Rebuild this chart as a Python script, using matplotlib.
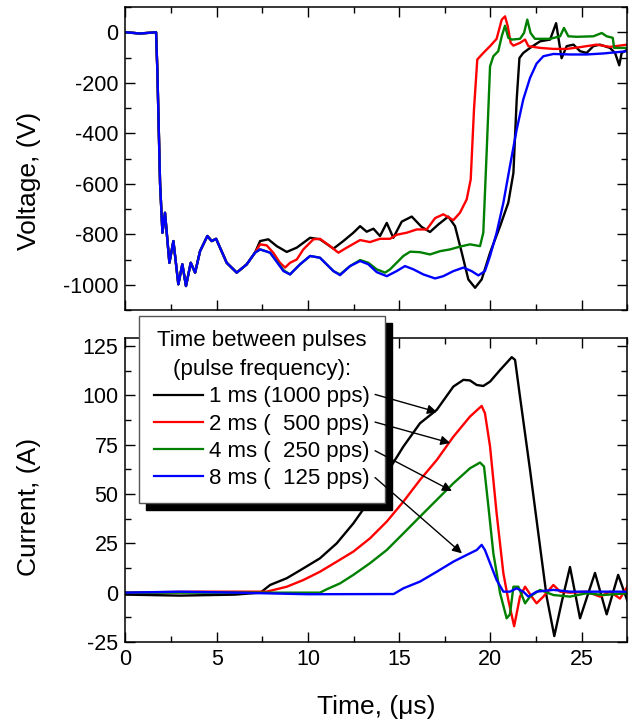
import matplotlib
matplotlib.use("Agg")
import matplotlib.pyplot as plt
from matplotlib.lines import Line2D
from matplotlib.ticker import MultipleLocator
import numpy as np

plt.rcParams['font.family'] = ['Liberation Sans', 'DejaVu Sans']
plt.rcParams['axes.unicode_minus'] = False

# ---------------- data ----------------
# common early voltage part (all curves overlap)
v_common_t = [0.0, 0.8, 1.68, 1.75, 1.9, 2.03, 2.17, 2.41, 2.63, 2.9, 3.12, 3.32, 3.58, 3.82,
              4.09, 4.49, 4.73, 4.97, 5.55, 6.1, 6.65, 7.1]
v_common_v = [0, -5, 0, -150, -600, -794, -715, -913, -827, -998, -919, -1005, -913, -952,
              -867, -807, -827, -818, -913, -952, -919, -873]

v_black_t = [7.38, 7.83, 8.29, 8.84, 9.39, 10.12, 10.66, 11.4, 11.94, 12.49, 12.86, 13.22, 13.59,
             13.95, 14.32, 14.68, 15.14, 15.69, 16.23, 16.69, 17.15, 17.69, 18.06, 18.43, 18.79,
             19.16, 19.52, 19.98, 20.53, 20.98, 21.26, 21.44, 21.59, 21.8, 22.17, 22.72, 23.27,
             23.6, 23.9, 24.18, 24.55, 24.91, 25.27, 25.64, 26.0, 26.55, 26.83, 27.06, 27.19, 27.5]
v_black_v = [-827, -820, -847, -870, -853, -814, -820, -857, -827, -794, -768, -790, -778,
             -807, -755, -814, -750, -730, -771, -791, -761, -730, -768, -873, -979,
             -1012, -979, -873, -768, -675, -557, -266, -102, -82, -62, -36, -29,
             36, -103, -55, -49, -75, -82, -55, -49, -62, -82, -131, -82, -69]

v_red_t = [7.38, 7.74, 8.1, 8.47, 8.75, 9.02, 9.39, 9.75, 10.3, 10.66, 11.21, 11.67, 12.13, 12.86,
           13.4, 13.95, 14.5, 14.86, 15.41, 15.96, 16.51, 16.97, 17.42, 17.97, 18.33, 18.7, 18.92,
           19.1, 19.28, 19.61, 19.98, 20.34, 20.62, 20.8, 20.95, 21.11, 21.26, 21.62, 21.9, 22.08,
           22.72, 23.45, 24.18, 24.91, 25.82, 26.55, 27.5]
v_red_v = [-840, -844, -873, -913, -932, -913, -900, -860, -820, -818, -847, -873, -853, -823,
           -831, -818, -818, -802, -794, -781, -781, -736, -721, -744, -715, -662, -583,
           -306, -108, -82, -55, -26, 50, 63, 24, -42, -53, -42, -29, -55,
           -62, -66, -66, -59, -49, -58, -49]

v_green_t = [7.38, 7.93, 8.66, 9.02, 9.57, 10.12, 10.66, 11.4, 11.76, 12.31, 12.86, 13.31, 13.77,
             14.23, 14.5, 14.86, 15.23, 15.6, 16.14, 16.69, 17.24, 17.79, 18.33, 18.88, 19.43,
             19.61, 19.8, 19.98, 20.16, 20.43, 20.62, 20.8, 20.98, 21.17, 21.62, 21.84, 22.02,
             22.2, 22.44, 23.27, 23.82, 24.03, 24.27, 24.73, 25.64, 26.1, 26.37, 26.7, 26.78, 27.5]
v_green_v = [-860, -873, -942, -959, -919, -886, -893, -946, -959, -926, -902, -913, -939,
             -952, -939, -913, -886, -869, -871, -880, -867, -860, -849, -840, -847,
             -794, -464, -135, -95, -75, -16, 26, -22, -29, -26, -3, 50,
             -3, -26, -26, -16, 17, -16, -18, -16, -3, -16, -22, -62, -62]

v_blue_t = [7.38, 7.93, 8.66, 9.02, 9.57, 10.12, 10.66, 11.4, 11.76, 12.31, 12.86, 13.31, 13.77,
            14.32, 14.86, 15.32, 15.78, 16.32, 16.97, 17.42, 17.97, 18.52, 18.97, 19.34, 19.7,
            19.98, 20.34, 20.71, 21.07, 21.44, 21.8, 22.17, 22.53, 22.9, 23.45, 24.36, 25.27,
            26.19, 27.5]
v_blue_v = [-860, -873, -946, -959, -919, -886, -893, -946, -962, -926, -906, -919, -950,
            -966, -946, -926, -939, -959, -975, -966, -946, -932, -946, -963, -946,
            -886, -794, -675, -530, -385, -266, -181, -124, -95, -86, -88, -88,
            -84, -75]

# current curves
i_black_t = [0.0, 3.0, 6.0, 7.4, 7.93, 8.84, 9.75, 10.66, 11.58, 12.49, 13.4, 14.32, 15.23, 16.14,
             17.06, 17.97, 18.52, 18.88, 19.25, 19.61, 19.98, 20.53, 21.17, 21.35, 21.62, 22.17,
             22.72, 23.08, 23.5, 23.9, 24.36, 24.91, 25.73, 26.37, 27.0, 27.5]
i_black_i = [-1, -1.5, -1, 0, 3.9, 7.3, 12.3, 17.4, 25, 35.1, 47, 60.5, 74, 85.8,
             92.6, 104.4, 107.8, 107.5, 105.2, 104.7, 106.9, 112.8, 119.3, 117.9, 99.3, 62.2,
             23.3, -2, -22, -5, 13, -13, 10, -11, 9, -4]

i_red_t = [0.0, 4.0, 7.74, 8.84, 9.75, 10.66, 11.58, 12.49, 13.4, 14.32, 15.23, 16.14, 17.06,
           17.97, 18.88, 19.52, 19.7, 19.98, 20.34, 20.71, 20.98, 21.3, 21.62, 21.9, 22.26,
           22.53, 22.9, 23.45, 23.82, 24.36, 25.27, 26.0, 26.55, 27.1, 27.5]
i_red_i = [0, 0.5, 0.5, 3, 6.4, 10.6, 15.7, 20.8, 27.5, 36, 46.1, 57.1, 67.2,
           79, 89.2, 94.6, 90.9, 74, 40.2, 9.8, -3.7, -17, -2, 3, -2,
           -5.4, -2, 3.9, 0.5, 0, 0.5, -2, 0.5, -3, 3]

i_green_t = [0.0, 5.0, 10.66, 11.03, 11.76, 12.49, 13.4, 14.32, 15.23, 16.14, 17.06, 17.97,
             18.88, 19.43, 19.65, 19.89, 20.16, 20.53, 20.89, 21.07, 21.26, 21.53, 21.9, 22.17,
             22.72, 23.45, 24.36, 25.27, 26.19, 27.5]
i_green_i = [0, 0, 0, 1.7, 4.7, 9, 14.9, 21.6, 30, 38.5, 47, 55.4,
             63, 65.9, 63.9, 43.6, 20, -0.3, -13, -11, 3, 3, -5.4, -2,
             1.4, -1.2, -2, -0.3, -1.2, -0.3]

i_blue_t = [0.0, 3.0, 6.0, 10.0, 14.7, 15.23, 16.14, 17.06, 17.97, 18.7, 19.25, 19.52, 19.7,
            19.98, 20.34, 20.71, 21.07, 21.44, 21.8, 22.08, 22.53, 23.45, 24.36, 26.19, 27.5]
i_blue_i = [0, 0.5, 0, -0.8, -0.7, 2.2, 5.6, 10.6, 15.7, 19.1, 21.6, 24.2, 21.6,
            14.9, 6.4, 0.5, 0.5, 2.2, 0.5, -2, 0.5, 1.4, 0.5, 0.5, 0.5]

legend_title = "Time between pulses\n(pulse frequency):"
series_labels = ["1 ms (1000 pps)", "2 ms (  500 pps)", "4 ms (  250 pps)", "8 ms (  125 pps)"]
series_colors = ["black", "#ff0000", "#008000", "#0000ff"]

# arrow (label end -> curve point) in data coords of current plot
arrow_start = [(13.68, 100.4), (13.68, 86.4), (13.68, 71.9), (13.68, 58.3)]
arrow_end = [(17.07, 91.5), (17.8, 75.8), (17.89, 51.5), (18.44, 19.9)]

# ---------------- figure ----------------
W, H = 629, 728
fig = plt.figure(figsize=(W / 100, H / 100), dpi=100)
left = 125.4 / W
right = 627.3 / W
ax1 = fig.add_axes([left, 1 - 310 / H, right - left, (310 - 7) / H])
ax2 = fig.add_axes([left, 1 - 642 / H, right - left, (642 - 338) / H])

lw = 1.7
v_series = [(v_black_t, v_black_v), (v_red_t, v_red_v), (v_green_t, v_green_v), (v_blue_t, v_blue_v)]
for (t, v), c in zip(v_series, series_colors):
    ax1.plot(v_common_t + t, v_common_v + v, color=c, lw=lw)

i_series = [(i_black_t, i_black_i), (i_red_t, i_red_i), (i_green_t, i_green_i), (i_blue_t, i_blue_i)]
for (t, i), c in zip(i_series, series_colors):
    ax2.plot(t, i, color=c, lw=lw)

tick_fs = 15.5
for ax in (ax1, ax2):
    ax.set_xlim(0, 27.5)
    ax.xaxis.set_major_locator(MultipleLocator(5))
    ax.xaxis.set_minor_locator(MultipleLocator(2.5))
    ax.tick_params(which='both', direction='in', top=True, right=True, width=1.0)
    ax.tick_params(which='major', length=7, labelsize=tick_fs, pad=5)
    ax.tick_params(which='minor', length=4.5)
    for s in ax.spines.values():
        s.set_linewidth(1.1)

ax1.set_ylim(-1100, 100)
ax1.yaxis.set_major_locator(MultipleLocator(200))
ax1.yaxis.set_minor_locator(MultipleLocator(100))
ax1.tick_params(labelbottom=False)

ax2.set_ylim(-25, 129)
ax2.yaxis.set_major_locator(MultipleLocator(25))
ax2.yaxis.set_minor_locator(MultipleLocator(12.5))

lab_fs = 19
ax1.set_ylabel("Voltage, (V)", fontsize=lab_fs)
ax2.set_ylabel("Current, (A)", fontsize=lab_fs)
ax1.yaxis.set_label_coords(-0.168, 0.426)
ax2.yaxis.set_label_coords(-0.168, 0.444)
ax2.set_xlabel("Time, (μs)", fontsize=lab_fs, labelpad=18)

handles = [Line2D([], [], color=c, lw=1.6) for c in series_colors]
leg = ax2.legend(handles, series_labels, title=legend_title, loc='upper left',
                 bbox_to_anchor=(139.3 / W, 1 - 315.7 / H), bbox_transform=fig.transFigure,
                 borderaxespad=0, fontsize=16, title_fontsize=16, frameon=True,
                 fancybox=False, framealpha=1, edgecolor='#555555',
                 shadow={'ox': 5, 'oy': -5, 'color': 'black', 'alpha': 1, 'shade': 1.0},
                 handlelength=2.2, handletextpad=0.3, labelspacing=0.28,
                 borderpad=0.65)
leg.get_frame().set_linewidth(1.0)
leg.get_title().set_multialignment('center')
leg.get_title().set_linespacing(1.5)
leg.set_zorder(5)

for (xs, ys), (xe, ye) in zip(arrow_start, arrow_end):
    ax2.annotate("", xy=(xe, ye), xytext=(xs, ys), xycoords='data', textcoords='data',
                 arrowprops=dict(arrowstyle='-|>', color='black', lw=1.0,
                                 mutation_scale=14, shrinkA=0, shrinkB=0),
                 zorder=10, annotation_clip=False)

fig.savefig("out.png", dpi=100)
